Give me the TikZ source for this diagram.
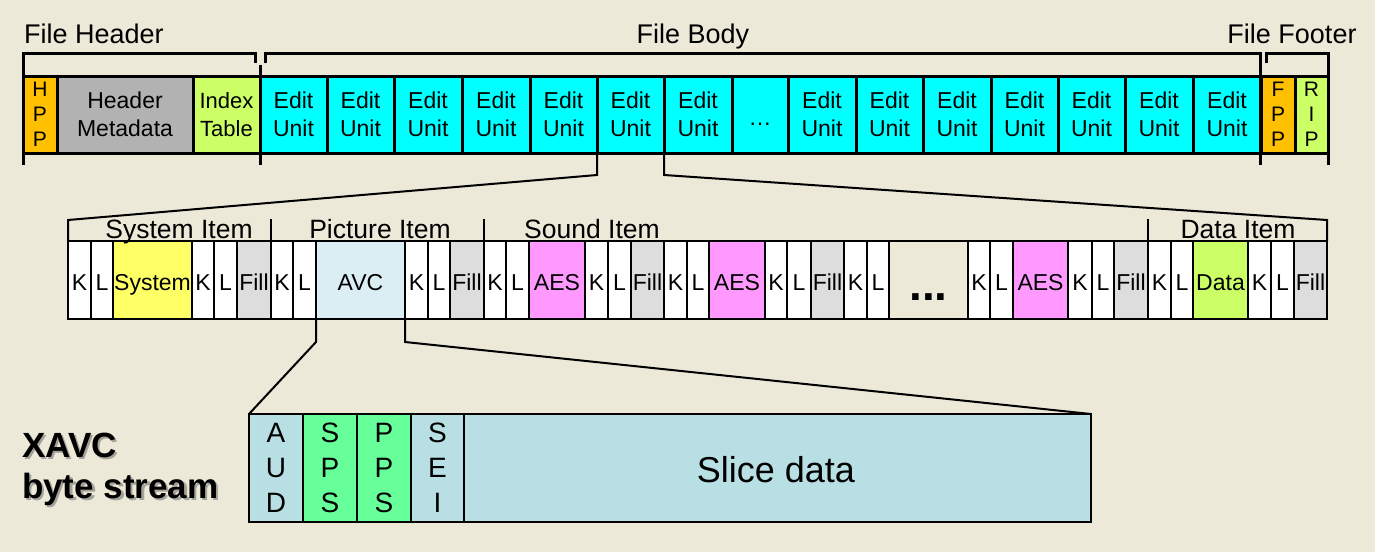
\documentclass[tikz,border=0pt]{standalone}
\usepackage{fontspec}
\setmainfont{Liberation Sans}
\usetikzlibrary{calc}
\definecolor{bg}{HTML}{ECE9D8}
\definecolor{orng}{HTML}{FFC000}
\definecolor{hgray}{HTML}{B2B2B2}
\definecolor{lime}{HTML}{CCFF66}
\definecolor{cyn}{HTML}{00FFFF}
\definecolor{sysyel}{HTML}{FFFF66}
\definecolor{fillgray}{HTML}{DDDDDD}
\definecolor{avcblue}{HTML}{DAEEF3}
\definecolor{aespink}{HTML}{FF99FF}
\definecolor{spsgreen}{HTML}{66FF99}
\definecolor{nalblue}{HTML}{B8DFE4}
\tikzset{
  every node/.style={inner sep=0pt, outer sep=0pt},
  tcell/.style={draw=black, line width=3pt, anchor=north west, minimum height=77pt, align=center, font=\fontsize{23}{28}\selectfont},
  mcell/.style={draw=black, line width=2pt, anchor=north west, minimum height=78pt, align=center, text height=20pt, text depth=0pt, font=\fontsize{23}{28}\selectfont},
  bcell/.style={draw=black, line width=2pt, anchor=north west, minimum height=108pt, align=center, font=\fontsize{28}{35}\selectfont},
  stackfont/.style={font=\fontsize{21}{25}\selectfont},
  brk/.style={draw=black, line width=3pt, line join=miter},
  fun/.style={draw=black, line width=2pt},
  seclbl/.style={anchor=base, font=\fontsize{27}{32}\selectfont},
  itemlbl/.style={anchor=base, font=\fontsize{26.5}{32}\selectfont},
  xavc/.style={anchor=base west, font=\fontsize{35}{40}\selectfont\bfseries},
}
\newcommand\topcell[5]{\node[tcell, fill=#4, minimum width={#3pt-#2pt}] (#1) at (#2,76) {#5};}
\newcommand\midcell[5]{\node[mcell, fill=#4, minimum width={#3pt-#2pt}] (#1) at (#2,241) {#5};}
\newcommand\botcell[5]{\node[bcell, fill=#4, minimum width={#3pt-#2pt}] (#1) at (#2,414) {#5};}
\begin{document}
\begin{tikzpicture}[x=1pt,y=-1pt]
\useasboundingbox (0,0) rectangle (1375,552);
\fill[bg] (0,0) rectangle (1375,552);

% ---------- top row ----------
\node[tcell, stackfont, fill=orng, minimum width=34pt] (hpp) at (23,76) {H\\P\\P};
\topcell{hmd}{57}{193}{hgray}{Header\\Metadata}
\node[tcell, fill=lime, minimum width=67pt, font=\fontsize{22}{28}\selectfont] (idx) at (193,76) {Index\\Table};
\topcell{e1}{260}{327}{cyn}{Edit\\Unit}
\topcell{e2}{327}{394}{cyn}{Edit\\Unit}
\topcell{e3}{394}{462}{cyn}{Edit\\Unit}
\topcell{e4}{462}{530}{cyn}{Edit\\Unit}
\topcell{e5}{530}{597}{cyn}{Edit\\Unit}
\topcell{e6}{597}{664}{cyn}{Edit\\Unit}
\topcell{e7}{664}{732}{cyn}{Edit\\Unit}
\topcell{e8}{732}{788}{cyn}{}
\topcell{e9}{788}{856}{cyn}{Edit\\Unit}
\topcell{e10}{856}{923}{cyn}{Edit\\Unit}
\topcell{e11}{923}{991}{cyn}{Edit\\Unit}
\topcell{e12}{991}{1058}{cyn}{Edit\\Unit}
\topcell{e13}{1058}{1125}{cyn}{Edit\\Unit}
\topcell{e14}{1125}{1193}{cyn}{Edit\\Unit}
\topcell{e15}{1193}{1261}{cyn}{Edit\\Unit}
\node[tcell, stackfont, fill=orng, minimum width=34pt] (fpp) at (1261,76) {F\\P\\P};
\node[tcell, stackfont, fill=lime, minimum width=33pt] (rip) at (1295,76) {R\\I\\P};
\node[anchor=base, font=\fontsize{23}{28}\selectfont] (edots) at (e8.center |- 0,125) {…};

% brackets
\coordinate (bh1) at (255,63); \coordinate (bh2) at (255,53); \coordinate (bh3) at (23,53); \coordinate (bh4) at (23,165);
\draw[brk] (bh1) -- (bh2) -- (bh3) -- (bh4);
\coordinate (bs1) at (260,65); \coordinate (bs2) at (260,165);
\draw[brk] (bs1) -- (bs2);
\coordinate (bb1) at (265,63); \coordinate (bb2) at (265,53); \coordinate (bb3) at (1260,53); \coordinate (bb4) at (1260,165);
\draw[brk] (bb1) -- (bb2) -- (bb3) -- (bb4);
\coordinate (bf1) at (1266,63); \coordinate (bf2) at (1266,53); \coordinate (bf3) at (1328,53); \coordinate (bf4) at (1328,165);
\draw[brk] (bf1) -- (bf2) -- (bf3) -- (bf4);
\node[seclbl] (lfh) at (94,43) {File Header};
\node[seclbl] (lfb) at (693,43) {File Body};
\node[seclbl] (lff) at (1292,43) {File Footer};

% ---------- middle row ----------
\midcell{m1}{68}{91}{white}{K}
\midcell{m2}{91}{113}{white}{L}
\midcell{m3}{113}{192}{sysyel}{System}
\midcell{m4}{192}{214}{white}{K}
\midcell{m5}{214}{237}{white}{L}
\midcell{m6}{237}{271}{fillgray}{Fill}
\midcell{m7}{271}{293}{white}{K}
\midcell{m8}{293}{316}{white}{L}
\midcell{m9}{316}{405}{avcblue}{AVC}
\midcell{m10}{405}{428}{white}{K}
\midcell{m11}{428}{450}{white}{L}
\midcell{m12}{450}{484}{fillgray}{Fill}
\midcell{m13}{484}{506}{white}{K}
\midcell{m14}{506}{529}{white}{L}
\midcell{m15}{529}{585}{aespink}{AES}
\midcell{m16}{585}{608}{white}{K}
\midcell{m17}{608}{631}{white}{L}
\midcell{m18}{631}{664}{fillgray}{Fill}
\midcell{m19}{664}{687}{white}{K}
\midcell{m20}{687}{709}{white}{L}
\midcell{m21}{709}{765}{aespink}{AES}
\midcell{m22}{765}{787}{white}{K}
\midcell{m23}{787}{811}{white}{L}
\midcell{m24}{811}{844}{fillgray}{Fill}
\midcell{m25}{844}{867}{white}{K}
\midcell{m26}{867}{889}{white}{L}
\midcell{m27}{889}{968}{bg}{}
\midcell{m28}{968}{990}{white}{K}
\midcell{m29}{990}{1013}{white}{L}
\midcell{m30}{1013}{1068}{aespink}{AES}
\midcell{m31}{1068}{1092}{white}{K}
\midcell{m32}{1092}{1114}{white}{L}
\midcell{m33}{1114}{1148}{fillgray}{Fill}
\midcell{m34}{1148}{1171}{white}{K}
\midcell{m35}{1171}{1193}{white}{L}
\midcell{m36}{1193}{1248}{lime}{Data}
\midcell{m37}{1248}{1271}{white}{K}
\midcell{m38}{1271}{1294}{white}{L}
\midcell{m39}{1294}{1327}{fillgray}{Fill}
\node[anchor=base, font=\fontsize{46}{46}\selectfont\bfseries] (mdots) at (928.5,300) {...};

% item separators and labels
\coordinate (s1) at (271,219); \draw[fun] (s1) -- (m7.north west);
\coordinate (s2) at (484,219); \draw[fun] (s2) -- (m13.north west);
\coordinate (s3) at (1148,219); \draw[fun] (s3) -- (m34.north west);
\node[itemlbl] (lsys) at (179,238) {System Item};
\node[itemlbl] (lpic) at (380,238) {Picture Item};
\node[itemlbl] (lsnd) at (592,238) {Sound Item};
\node[itemlbl] (ldat) at (1238,238) {Data Item};

% funnel from edit unit
\coordinate (fa) at (597,175); \coordinate (fb) at (68,220);
\draw[fun] (e6.south west) -- (fa) -- (fb) -- (m1.north west);
\coordinate (fc) at (664,175); \coordinate (fd) at (1327,220);
\draw[fun] (e6.south east) -- (fc) -- (fd) -- (m39.north east);

% ---------- bottom row ----------
\botcell{b1}{249}{303}{nalblue}{A\\U\\D}
\botcell{b2}{303}{357}{spsgreen}{S\\P\\S}
\botcell{b3}{357}{411}{spsgreen}{P\\P\\S}
\botcell{b4}{411}{464}{nalblue}{S\\E\\I}
\node[bcell, fill=nalblue, minimum width=627pt, font=\fontsize{36}{40}\selectfont] (b5) at (464,414) {};
\node[anchor=base, font=\fontsize{36}{40}\selectfont] (slice) at (776,482) {Slice data};

\coordinate (ga) at (316,342); \coordinate (gb) at (405,342);
\draw[fun] (m9.south west) -- (ga) -- (b1.north west);
\draw[fun] (m9.south east) -- (gb) -- (b5.north east);

% XAVC label with shadow
\node[xavc, text=black!55, opacity=0.6] (x1s) at (24.5,459.5) {XAVC};
\node[xavc, text=black!55, opacity=0.6] (x2s) at (24.5,500.5) {byte stream};
\node[xavc] (x1) at (22,457) {XAVC};
\node[xavc] (x2) at (22,498) {byte stream};
\end{tikzpicture}
\end{document}
